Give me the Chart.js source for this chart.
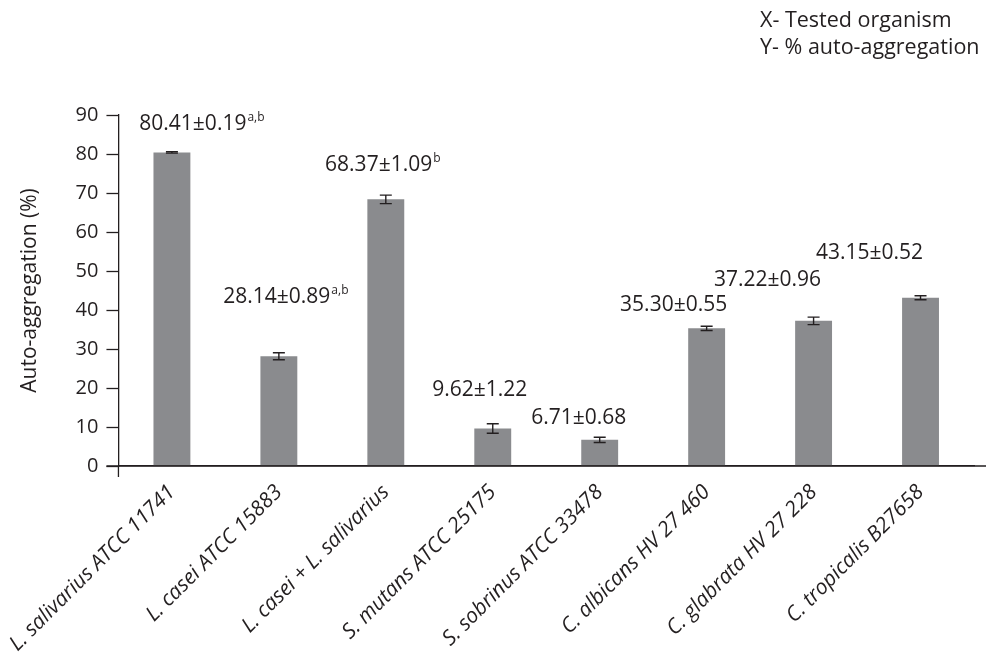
<!DOCTYPE html>
<html>
<head>
<meta charset="utf-8">
<script src="https://cdn.jsdelivr.net/npm/chart.js@4.4.1/dist/chart.umd.min.js"></script>
<style>
  html, body { margin: 0; padding: 0; background: #fff; }
  #wrap { width: 986px; height: 652px; }
</style>
</head>
<body>
<div id="wrap"><canvas id="aggChart" width="986" height="652"></canvas></div>
<script>
const organisms = [
    'L. salivarius ATCC 11741',
    'L. casei ATCC 15883',
    'L. casei + L. salivarius',
    'S. mutans ATCC 25175',
    'S. sobrinus ATCC 33478',
    'C. albicans HV 27 460',
    'C. glabrata HV 27 228',
    'C. tropicalis B27658'
];
const aggregation = [80.41, 28.14, 68.37, 9.62, 6.71, 35.30, 37.22, 43.15];
const aggregationSD = [0.19, 0.89, 1.09, 1.22, 0.68, 0.55, 0.96, 0.52];
const significance = ['a,b', 'a,b', 'b', '', '', '', '', ''];
const yTicks = [0, 10, 20, 30, 40, 50, 60, 70, 80, 90];

// label placement tweaks (pixels) relative to the bar top
const labelShiftX = [30, 7, -3, -13, -21, -33, -46, -51];
const labelShiftY = [-28, -59, -34, -38, -22, -23, -41, -45];

const ink = '#231f20';
const font = '"Open Sans", "Noto Sans", sans-serif';

const extras = {
    id: 'extras',
    afterDatasetsDraw(chart) {
        const ctx = chart.ctx;
        const x = chart.scales.x;
        const y = chart.scales.y;
        const area = chart.chartArea;
        ctx.save();
        ctx.strokeStyle = ink;
        ctx.lineWidth = 1.3;

        // axis line extensions
        ctx.beginPath();
        ctx.moveTo(area.left - 12, area.bottom);
        ctx.lineTo(chart.width, area.bottom);
        ctx.moveTo(area.left, area.bottom);
        ctx.lineTo(area.left, area.bottom + 11);
        ctx.stroke();

        // error bars
        ctx.lineWidth = 1.4;
        aggregation.forEach((v, i) => {
            const cx = x.getPixelForValue(i);
            const top = y.getPixelForValue(v + aggregationSD[i]);
            const bot = y.getPixelForValue(v - aggregationSD[i]);
            ctx.beginPath();
            ctx.moveTo(cx, top); ctx.lineTo(cx, bot);
            ctx.moveTo(cx - 6, top); ctx.lineTo(cx + 6, top);
            ctx.moveTo(cx - 6, bot); ctx.lineTo(cx + 6, bot);
            ctx.stroke();
        });

        // value labels
        ctx.fillStyle = ink;
        ctx.textBaseline = 'middle';
        aggregation.forEach((v, i) => {
            const main = v.toFixed(2) + '±' + aggregationSD[i].toFixed(2);
            ctx.font = '21px ' + font;
            const w1 = ctx.measureText(main).width;
            ctx.font = '12px ' + font;
            const w2 = significance[i] ? ctx.measureText(significance[i]).width + 1 : 0;
            const cx = x.getPixelForValue(i) + labelShiftX[i];
            const cy = y.getPixelForValue(v) + labelShiftY[i];
            const sx = cx - (w1 + w2) / 2;
            ctx.textAlign = 'left';
            ctx.font = '21px ' + font;
            ctx.fillText(main, sx, cy);
            if (significance[i]) {
                ctx.font = '12px ' + font;
                ctx.fillText(significance[i], sx + w1 + 1, cy - 7);
            }
        });

        // axis key, top right
        ctx.font = '21.5px ' + font;
        ctx.textAlign = 'left';
        ctx.fillText('X- Tested organism', 760, 21);
        ctx.fillText('Y- % auto-aggregation', 760, 48);
        ctx.restore();
    }
};

new Chart(document.getElementById('aggChart').getContext('2d'), {
    type: 'bar',
    data: {
        labels: organisms,
        datasets: [{
            label: 'Auto-aggregation (%)',
            data: aggregation,
            backgroundColor: '#8a8b8e',
            barPercentage: 0.69,
            categoryPercentage: 0.5
        }]
    },
    options: {
        responsive: false,
        animation: false,
        layout: { padding: { top: 115, right: 12, left: 0, bottom: 0 } },
        plugins: {
            legend: { display: false },
            tooltip: { enabled: false }
        },
        scales: {
            x: {
                afterFit: s => { s.height = 186; },
                grid: { display: false },
                border: { display: true, color: ink, width: 1.3 },
                ticks: {
                    color: ink,
                    autoSkip: false,
                    minRotation: 45,
                    maxRotation: 45,
                    padding: 6,
                    font: { family: font, size: 21, style: 'italic' }
                }
            },
            y: {
                min: 0,
                max: 90,
                afterFit: s => { s.width = 117; },
                afterBuildTicks: s => { s.ticks = yTicks.map(v => ({ value: v })); },
                grid: { drawOnChartArea: false, tickLength: 12, tickColor: ink, tickWidth: 1.3 },
                border: { display: true, color: ink, width: 1.3 },
                ticks: {
                    color: ink,
                    padding: 8,
                    font: { family: font, size: 20 }
                },
                title: {
                    display: true,
                    text: 'Auto-aggregation (%)',
                    color: ink,
                    padding: { top: 16, bottom: 0 },
                    font: { family: font, size: 21 }
                }
            }
        }
    },
    plugins: [extras]
});
</script>
</body>
</html>
